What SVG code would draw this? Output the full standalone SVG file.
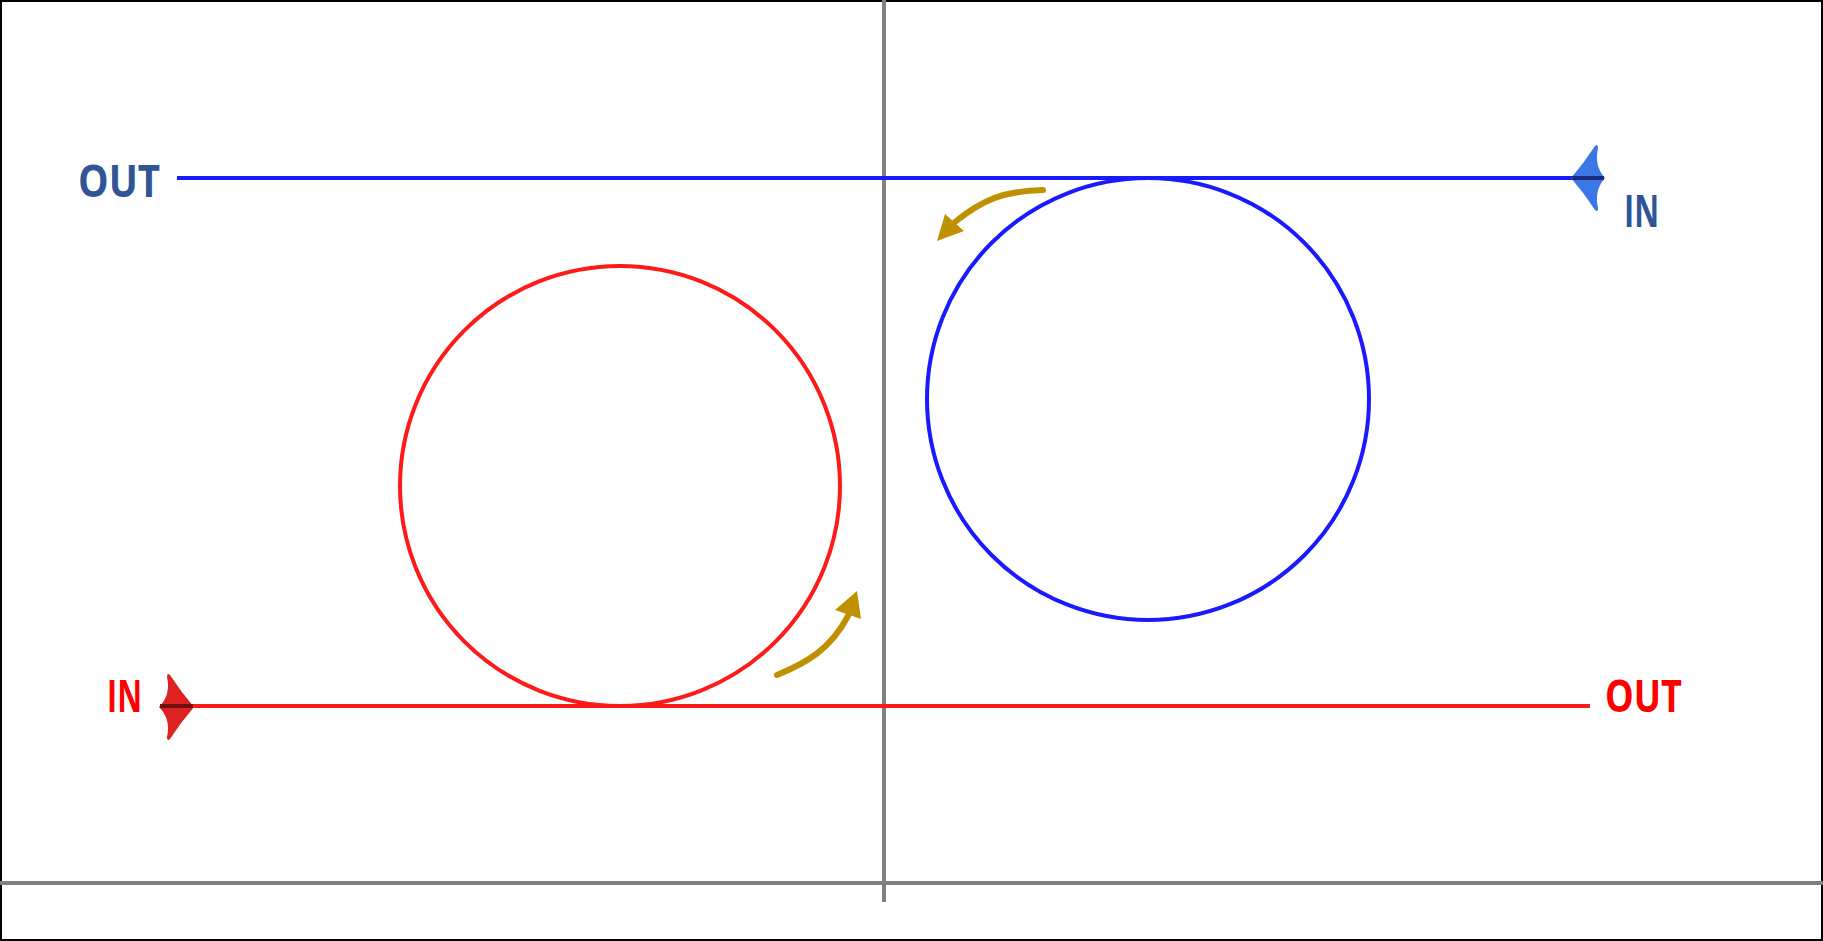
<svg xmlns="http://www.w3.org/2000/svg" width="1823" height="941" viewBox="0 0 1823 941">
<style>
.axis{stroke:#808080;stroke-width:4;fill:none}
.blue{stroke:#1a1aff;stroke-width:4;fill:none}
.red{stroke:#ff1a1a;stroke-width:4;fill:none}
.gold{stroke:#BF9000;stroke-width:6;fill:none;stroke-linecap:round}
.lbl{font-family:"Open Sans","Liberation Sans",sans-serif;font-weight:700;font-size:44px}
</style>
<rect x="1" y="1" width="1821" height="939" fill="#ffffff" stroke="#000000" stroke-width="2"/>
<g id="axes">
<line class="axis" x1="884" y1="0" x2="884" y2="902"/>
<line class="axis" x1="0" y1="883" x2="1823" y2="883"/>
</g>
<g id="blue-circle"><circle class="blue" cx="1148" cy="399" r="221" stroke-width="3.5"/></g>
<g id="red-circle"><circle class="red" cx="620" cy="486" r="220" stroke-width="3.5"/></g>
<g id="connectors">
<line class="blue" x1="177" y1="178" x2="1604" y2="178"/>
<path d="M1571,178 Q1584,163 1595,146 Q1598,143 1598,148 Q1594,166 1605,178 Q1594,190 1598,208 Q1598,213 1595,210 Q1584,193 1571,178 Z" fill="#3b78e7"/>
<line x1="1572" y1="178" x2="1604" y2="178" stroke="#1a2a80" stroke-width="4"/>
<line class="red" x1="160" y1="706" x2="1590" y2="706"/>
<path d="M194,707 Q181,692 170,675 Q167,672 167,677 Q171,695 159,707 Q171,719 167,737 Q167,742 170,739 Q181,722 194,707 Z" fill="#dd2222"/>
<line x1="160" y1="706" x2="193" y2="706" stroke="#701010" stroke-width="4"/>
<path class="gold" d="M777,675 C806,663 830,650 848,616"/>
<path d="M857,591 L835,610 L861,619 Z" fill="#BF9000"/>
<path class="gold" d="M1043,190 C1003,191 982,200 955,222"/>
<path d="M937,241 L945,214 L964,231 Z" fill="#BF9000"/>
</g>
<g id="label-blue-out"><text class="lbl" x="78" y="197" fill="#2F5597" textLength="82" lengthAdjust="spacingAndGlyphs">OUT</text></g>
<g id="label-blue-in"><text class="lbl" x="1624" y="227" fill="#2F5597" textLength="35" lengthAdjust="spacingAndGlyphs">IN</text></g>
<g id="label-red-in"><text class="lbl" x="107" y="712" fill="#ff0000" textLength="35" lengthAdjust="spacingAndGlyphs">IN</text></g>
<g id="label-red-out"><text class="lbl" x="1605" y="712" fill="#ff0000" textLength="77" lengthAdjust="spacingAndGlyphs">OUT</text></g>
</svg>
